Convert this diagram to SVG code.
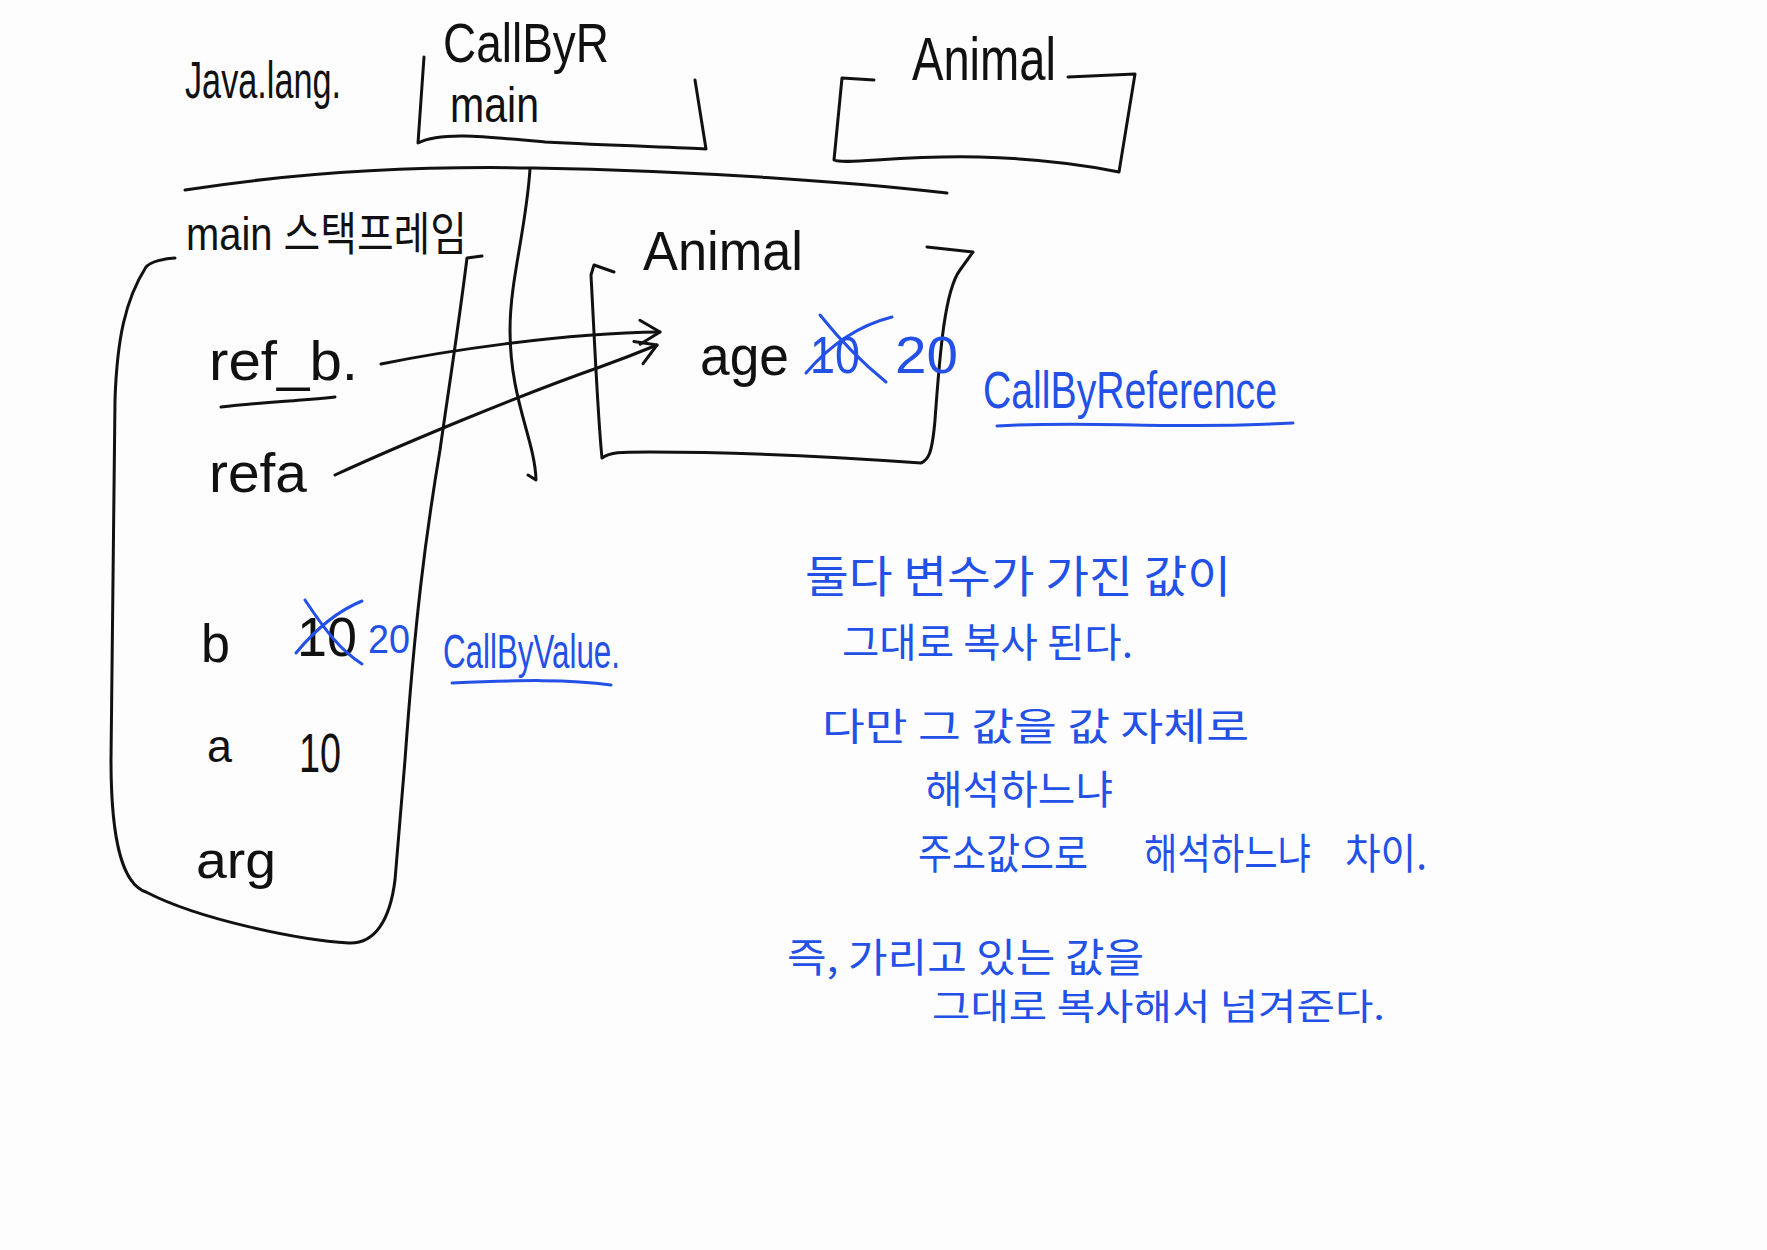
<svg xmlns="http://www.w3.org/2000/svg" width="1767" height="1250" viewBox="0 0 1767 1250">
<defs>
<style>
.ink{fill:none;stroke:#111;stroke-width:3;stroke-linecap:round;stroke-linejoin:round}
.blue{fill:none;stroke:#2350e6;stroke-width:3;stroke-linecap:round;stroke-linejoin:round}
.t{font-family:"Liberation Sans","Noto Sans CJK KR",sans-serif;fill:#111}
.tb{font-family:"Liberation Sans","Noto Sans CJK KR",sans-serif;fill:#2350e6}
.k{font-family:"Noto Sans CJK KR","Liberation Sans",sans-serif;fill:#2350e6}
</style>
<marker id="open" viewBox="-25 -15 30 30" refX="0" refY="0" markerWidth="30" markerHeight="30" markerUnits="userSpaceOnUse" orient="auto">
<path d="M-20,-12 L0,0 L-20,12" fill="none" stroke="#111" stroke-width="3" stroke-linecap="round" stroke-linejoin="round"/>
</marker>
</defs>
<rect width="1767" height="1250" fill="#fdfdfd"/>

<g id="java-lang">
<text class="t" x="185" y="98" font-size="52" textLength="156" lengthAdjust="spacingAndGlyphs">Java.lang.</text>
</g>

<g id="callbyr-class">
<text class="t" x="443" y="62" font-size="56" textLength="166" lengthAdjust="spacingAndGlyphs">CallByR</text>
<path class="ink" d="M424,57 L418,143 C 440,132 480,136 545,142 C 620,146 680,147 706,149 L695,80"/>
<text class="t" x="450" y="122" font-size="50" textLength="89" lengthAdjust="spacingAndGlyphs">main</text>
</g>

<g id="animal-class">
<text class="t" x="912" y="80" font-size="62" textLength="144" lengthAdjust="spacingAndGlyphs">Animal</text>
<path class="ink" d="M874,80 L842,78 L834,160 C 845,165 900,155 979,157 C 1050,159 1100,168 1119,172 L1135,74 L1068,77"/>
</g>

<g id="divider">
<path class="ink" d="M185,190 C 300,172 420,166 533,168 C 700,171 850,182 947,193"/>
<path class="ink" d="M530,169 C 526,230 510,280 510,330 C 510,400 535,440 536,480 L528,475"/>
</g>

<g id="main-stack-frame">
<text class="t" x="186" y="250" font-size="46" textLength="281" lengthAdjust="spacingAndGlyphs">main 스택프레임</text>
<path class="ink" d="M175,258 C 165,258 150,262 146,267 C 125,300 117,340 115,400 L111,760 C 111,850 125,885 146,892 C 200,920 300,940 349,943 C 375,944 390,920 395,880 L405,760 C 415,620 425,540 440,450 C 450,380 458,330 467,258 L482,256"/>
<text class="t" x="209" y="380" font-size="56" textLength="149" lengthAdjust="spacingAndGlyphs">ref_b.</text>
<path class="ink" d="M221,407 C 260,402 300,401 335,397"/>
<text class="t" x="209" y="492" font-size="56" textLength="98" lengthAdjust="spacingAndGlyphs">refa</text>
<text class="t" x="201" y="662" font-size="54" textLength="29" lengthAdjust="spacingAndGlyphs">b</text>
<text class="t" x="297" y="656" font-size="56" textLength="60" lengthAdjust="spacingAndGlyphs">10</text>
<path class="blue" d="M305,600 C 325,630 340,650 362,664 M296,653 C 315,630 335,612 362,601"/>
<text class="tb" x="368" y="653" font-size="40" textLength="42" lengthAdjust="spacingAndGlyphs">20</text>
<text class="t" x="207" y="762" font-size="46" textLength="25" lengthAdjust="spacingAndGlyphs">a</text>
<text class="t" x="299" y="772" font-size="56" textLength="42" lengthAdjust="spacingAndGlyphs">10</text>
<text class="t" x="196" y="878" font-size="52" textLength="80" lengthAdjust="spacingAndGlyphs">arg</text>
</g>

<g id="call-by-value">
<text class="tb" x="443" y="668" font-size="48" textLength="177" lengthAdjust="spacingAndGlyphs">CallByValue.</text>
<path class="blue" d="M452,683 C 520,680 570,679 611,685"/>
</g>

<g id="animal-object">
<text class="t" x="643" y="270" font-size="56" textLength="160" lengthAdjust="spacingAndGlyphs">Animal</text>
<path class="ink" d="M614,272 L594,265 L591,275 C 595,350 598,420 602,458 C 610,452 620,452 650,452 C 750,452 850,458 921,463 C 928,460 932,455 935,420 C 940,350 945,290 960,270 L973,252 L927,247"/>
<text class="t" x="700" y="375" font-size="56" textLength="89" lengthAdjust="spacingAndGlyphs">age</text>
<text class="tb" x="810" y="373" font-size="52" textLength="50" lengthAdjust="spacingAndGlyphs">10</text>
<path class="blue" d="M806,373 C 830,345 860,325 892,317 M820,315 C 840,340 865,365 886,382"/>
<text class="tb" x="895" y="373" font-size="52" textLength="63" lengthAdjust="spacingAndGlyphs">20</text>
</g>

<g id="call-by-reference">
<text class="tb" x="983" y="408" font-size="52" textLength="294" lengthAdjust="spacingAndGlyphs">CallByReference</text>
<path class="blue" d="M997,426 C 1100,420 1150,430 1293,423"/>
</g>

<g id="notes">
<text class="k" x="805" y="593" font-size="44" textLength="426" lengthAdjust="spacingAndGlyphs">둘다  변수가 가진 값이</text>
<text class="k" x="842" y="657" font-size="40" textLength="291" lengthAdjust="spacingAndGlyphs">그대로 복사 된다.</text>
<text class="k" x="822" y="740" font-size="38" textLength="427" lengthAdjust="spacingAndGlyphs">다만 그 값을 값 자체로</text>
<text class="k" x="925" y="804" font-size="40" textLength="188" lengthAdjust="spacingAndGlyphs">해석하느냐</text>
<text class="k" x="918" y="869" font-size="42" textLength="170" lengthAdjust="spacingAndGlyphs">주소값으로</text>
<text class="k" x="1144" y="869" font-size="42" textLength="167" lengthAdjust="spacingAndGlyphs">해석하느냐</text>
<text class="k" x="1345" y="869" font-size="42" textLength="82" lengthAdjust="spacingAndGlyphs">차이.</text>
<text class="k" x="787" y="972" font-size="40" textLength="357" lengthAdjust="spacingAndGlyphs">즉, 가리고 있는 값을</text>
<text class="k" x="932" y="1020" font-size="36" textLength="453" lengthAdjust="spacingAndGlyphs">그대로 복사해서 넘겨준다.</text>
</g>

<g id="connectors">
<path class="ink" d="M381,364 C 440,352 560,333 660,332" marker-end="url(#open)"/>
<path class="ink" d="M335,475 C 400,445 520,395 600,367 C 625,358 640,352 657,345" marker-end="url(#open)"/>
</g>
</svg>
